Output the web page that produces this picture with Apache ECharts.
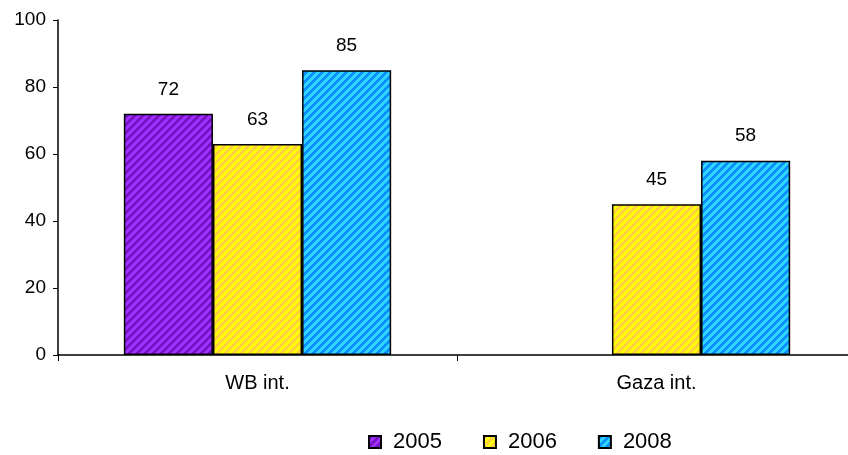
<!DOCTYPE html>
<html><head><meta charset="utf-8">
<script src="https://cdn.jsdelivr.net/npm/echarts@6/dist/echarts.min.js"></script>
<style>html,body{margin:0;padding:0;background:#fff}#c{width:848px;height:455px}</style>
</head><body><div id="c"></div>
<script>
const categories = ['WB int.', 'Gaza int.'];
const seriesNames = ['2005', '2006', '2008'];
const values2005 = [72, null];
const values2006 = [63, 45];
const values2008 = [85, 58];
const yTicks = [0, 20, 40, 60, 80, 100];

function hatch(light, dark) {
  const c = document.createElement('canvas');
  c.width = 8; c.height = 8;
  const ctx = c.getContext('2d');
  for (let x = 0; x < 8; x++) for (let y = 0; y < 8; y++) {
    ctx.fillStyle = ((x + y) % 8) < 4 ? dark : light;
    ctx.fillRect(x, y, 1, 1);
  }
  return { image: c, repeat: 'repeat' };
}
const fills = [hatch('#a030ff', '#7514c4'), hatch('#ffff00', '#ffd040'), hatch('#30d8ff', '#0a90ff')];
const data = [values2005, values2006, values2008];
const font = 'Liberation Sans, Arial, sans-serif';

const chart = echarts.init(document.getElementById('c'), null, { renderer: 'canvas' });
chart.setOption({
  animation: false,
  grid: { left: 58, top: 20, width: 798, height: 335, outerBoundsMode: 'none', containLabel: false },
  legend: {
    top: 426, left: 363, itemWidth: 12, itemHeight: 12, itemGap: 41,
    data: seriesNames.map(n => ({ name: n, icon: 'rect' })),
    textStyle: { fontFamily: font, fontSize: 22, color: '#000', padding: [0, 0, 0, 7] }
  },
  xAxis: {
    type: 'category', data: categories,
    axisLine: { lineStyle: { color: '#000', width: 1.5 } },
    axisTick: { show: true, alignWithLabel: false, length: 6, lineStyle: { color: '#000' } },
    axisLabel: { fontFamily: font, fontSize: 20, color: '#000', margin: 18 }
  },
  yAxis: {
    type: 'value', min: 0, max: 100, interval: 20,
    splitLine: { show: false },
    axisLine: { show: true, lineStyle: { color: '#000', width: 1.5 } },
    axisTick: { show: true, length: 5, lineStyle: { color: '#000' } },
    axisLabel: { fontFamily: font, fontSize: 19, color: '#000', margin: 12,
      formatter: v => yTicks.includes(v) ? String(v) : '' }
  },
  series: seriesNames.map((n, i) => ({
    name: n, type: 'bar', data: data[i],
    barGap: '0%', barCategoryGap: '33%',
    itemStyle: { color: fills[i], borderColor: '#000', borderWidth: 1.5 },
    label: { show: true, position: 'top', distance: 15, fontFamily: font, fontSize: 19, color: '#000' }
  }))
});
</script></body></html>
